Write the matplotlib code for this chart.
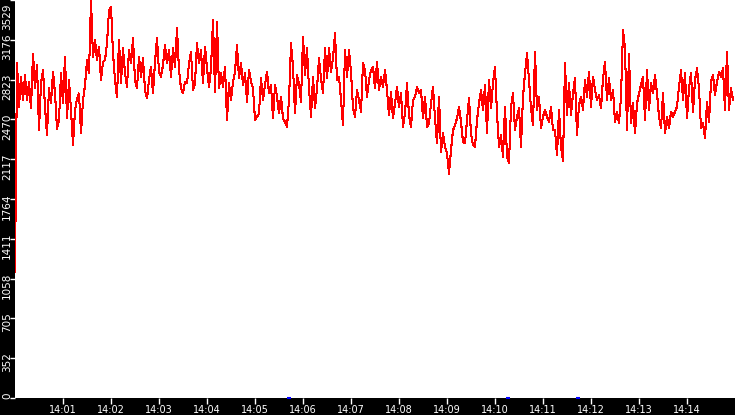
import matplotlib
matplotlib.use("Agg")
import matplotlib.pyplot as plt
import matplotlib.dates as mdates
import matplotlib.transforms as mtrans
import numpy as np
import pandas as pd

# ---- data (one sample every 2.5 s from 14:00:00) ----
seg1 = [1120, 2967, 2582, 2848, 2642, 2863, 2642, 2804, 2567, 3055, 2745, 2952, 2375, 2790, 2907,
        2582, 2330, 2745, 2612, 2893, 2700, 2389, 2463, 2878, 2612, 3026, 2478, 2819, 2552, 2241,
        2552, 2656, 2700, 2345, 2642, 2774, 2996, 2878, 3529, 3026, 3174, 2996, 3115, 2819, 2981]
seg2 = [2996, 3144, 3440, 3470, 3055, 2819, 2665, 3174, 2790, 3100, 2878, 2760, 3085, 2967, 3189,
        2819, 2745, 3026, 2849, 3011, 2730, 2656, 2819, 2937, 2700, 2981, 3189, 2893, 2849, 2952,
        3129, 2967, 3085, 2849, 3100, 2937, 3277, 2908, 2745, 2700, 2804, 2790, 2967, 3070, 2730]
seg3 = [2790, 3144, 2967, 3085, 2790, 3115, 2923, 2760, 2923, 3352, 2716, 3337, 2745, 2878, 2760,
        2937, 2464, 2790, 2642, 2804, 2893, 3129, 2834, 2967, 2775, 2878, 2627, 2908, 2804, 2745,
        2464, 2494, 2523, 2834, 2642, 2775, 2893, 2701, 2775, 2479, 2775, 2672, 2523, 2672, 2479]
seg4 = [2450, 2406, 2642, 3144, 2937, 2523, 2863, 2790, 2627, 3204, 2863, 3100, 2745, 2494, 2849,
        2568, 2745, 3011, 2834, 2701, 3100, 2834, 3100, 2893, 3011, 3233, 2819, 2849, 2642, 2420,
        3085, 2849, 3085, 2893, 2568, 2494, 2730, 2642, 2538, 2967, 2908, 2672, 2819, 2908, 2937]
seg5 = [2745, 2981, 2730, 2849, 2760, 2908, 2730, 2508, 2716, 2479, 2612, 2760, 2582, 2701, 2405,
        2523, 2790, 2508, 2405, 2642, 2672, 2760, 2701, 2730, 2479, 2672, 2405, 2435, 2612, 2760,
        2479, 2257, 2672, 2183, 2346, 2227, 2168, 1990, 2198, 2375, 2420, 2479, 2582, 2449, 2272]
seg6 = [2257, 2464, 2656, 2346, 2242, 2227, 2464, 2612, 2730, 2553, 2775, 2346, 2819, 2568, 2790,
        2937, 2523, 2227, 2330, 2138, 2582, 2138, 2086, 2582, 2701, 2375, 2494, 2568, 2227, 2672,
        2878, 3055, 2819, 2568, 2420, 3070, 2553, 2672, 2390, 2494, 2553, 2494, 2449, 2582, 2375]
seg7 = [2375, 2153, 2553, 2227, 2103, 2967, 2508, 2790, 2508, 2701, 2834, 2330, 2598, 2672, 2553,
        2819, 2672, 2893, 2582, 2849, 2730, 2642, 2686, 2568, 2834, 2981, 2642, 2834, 2642, 2730,
        2449, 2538, 2435, 2672, 3262, 3100, 2375, 3055, 2435, 2612, 2346, 2612, 2701, 2775, 2849]
seg8 = [2464, 2908, 2553, 2790, 2701, 2863, 2701, 2494, 2390, 2701, 2346, 2494, 2390, 2538, 2494,
        2538, 2582, 2760, 2908, 2642, 2878, 2479, 2745, 2878, 2538, 2819, 2923, 2745, 2390, 2435,
        2302, 2627, 2449, 2804, 2863, 2686, 2804, 2893, 2849, 2923, 2553, 3070, 2553, 2745, 2642]

y_ticks = [0, 352, 705, 1058, 1411, 1764, 2117, 2470, 2823, 3176, 3529]
y_max = 3529
x_start = "2024-01-01 14:00:00"
x_end = "2024-01-01 14:15:00"
sample_step = "2500ms"
event_times = ["2024-01-01 14:05:43", "2024-01-01 14:10:16", "2024-01-01 14:11:44"]

values = np.array(seg1 + seg2 + seg3 + seg4 + seg5 + seg6 + seg7 + seg8, dtype=float)
times = pd.date_range(x_start, periods=len(values), freq=sample_step)

# ---- figure ----
W, H = 735, 415
fig = plt.figure(figsize=(W / 100, H / 100), dpi=100, facecolor="black")
ax = fig.add_axes([15 / W, 17 / H, 720 / W, 398 / H], facecolor="white")

ax.plot(times, values, color="#ff0000", lw=0.75, antialiased=False, zorder=3)
ev = pd.to_datetime(event_times)
ax.plot(ev, np.zeros(len(ev)), ls="none", marker="_", ms=2.5, mew=1.5,
        color="#0000ff", clip_on=False, zorder=4)

ax.set_xlim(pd.Timestamp(x_start), pd.Timestamp(x_end))
ax.set_ylim(0, y_max)

for s in ax.spines.values():
    s.set_visible(False)

ax.xaxis.set_major_locator(mdates.MinuteLocator(byminute=range(1, 15)))
ax.xaxis.set_major_formatter(mdates.DateFormatter("%H:%M"))
ax.set_yticks(y_ticks)
ax.set_yticklabels([str(v) for v in y_ticks])

ax.tick_params(axis="x", colors="white", length=4.5, width=1, pad=0.3, labelsize=7)
ax.tick_params(axis="y", colors="white", length=3.6, width=1, pad=0, labelsize=7.5)

offset = mtrans.ScaledTranslation(0, 6 / 100, fig.dpi_scale_trans)
top_fix = mtrans.ScaledTranslation(0, -9 / 100, fig.dpi_scale_trans)
labels = ax.get_yticklabels()
for i, lab in enumerate(labels):
    lab.set_rotation(90)
    lab.set_rotation_mode("anchor")
    lab.set_va("baseline")
    lab.set_ha("right")
    tr = lab.get_transform() + offset
    if i == len(labels) - 1:
        tr = tr + top_fix
    lab.set_transform(tr)

fig.savefig("out.png", dpi=100, facecolor="black")
